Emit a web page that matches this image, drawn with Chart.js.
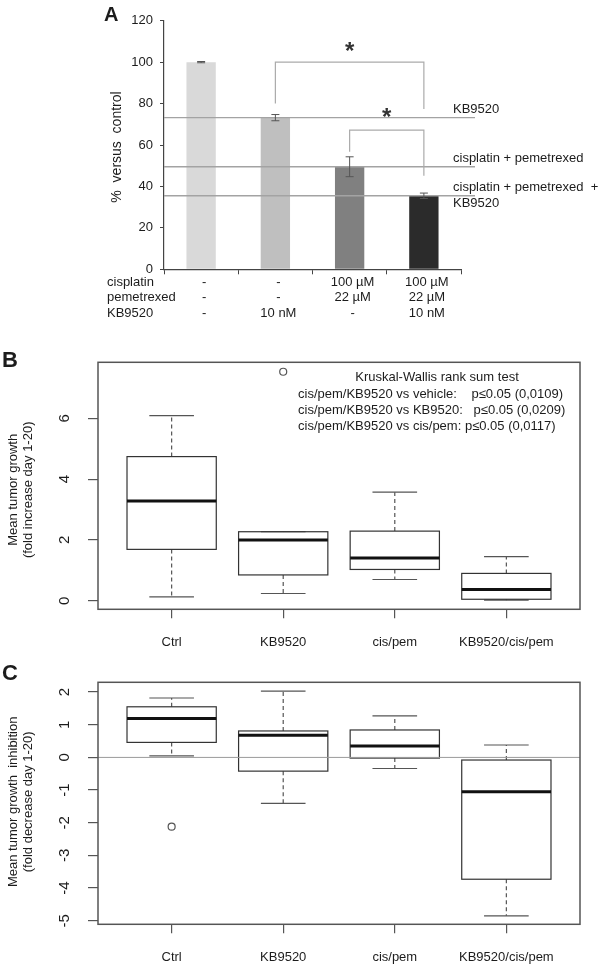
<!DOCTYPE html>
<html>
<head>
<meta charset="utf-8">
<title>KB9520 combination</title>
<script src="https://cdn.jsdelivr.net/npm/chart.js@4.4.1/dist/chart.umd.min.js"></script>
<style>
  body { margin: 0; background: #fff; }
  #page { position: relative; width: 600px; height: 967px; overflow: hidden; }
  #page canvas { position: absolute; left: 0; }
</style>
</head>
<body>
<div id="page">
  <canvas id="chartA" width="600" height="330" style="top:0"></canvas>
  <canvas id="chartB" width="600" height="320" style="top:330px"></canvas>
  <canvas id="chartC" width="600" height="317" style="top:650px"></canvas>
</div>
<script>
// Panel A - viability vs control
const viability = [100, 73.2, 49.5, 35.5];
const viabilityErr = [0.3, 1.5, 4.8, 1.3];
const viabilityTicks = [0, 20, 40, 60, 80, 100, 120];
const cisplatinDose = ['-', '-', '100 µM', '100 µM'];
const pemetrexedDose = ['-', '-', '22 µM', '22 µM'];
const kb9520Dose = ['-', '10 nM', '-', '10 nM'];
const doseRows = ['cisplatin', 'pemetrexed', 'KB9520'];
const refBars = [1, 2, 3];
const refLabels = [['KB9520'], ['cisplatin + pemetrexed'], ['cisplatin + pemetrexed  +', 'KB9520']];
// significance brackets
const sigFrom = [1, 2];
const sigTo = [3, 3];
const sigTop = [100, 67.2];
const sigFromEnd = [80, 56.8];
const sigToEnd = [77.4, 45.2];
const sigStar = [108.3, 76.5];

// Panel B - tumor growth
const groups = ['Ctrl', 'KB9520', 'cis/pem', 'KB9520/cis/pem'];
const growthMin = [0.13, 0.24, 0.70, 0.02];
const growthQ1 = [1.69, 0.85, 1.03, 0.05];
const growthMedian = [3.28, 2.0, 1.41, 0.37];
const growthQ3 = [4.74, 2.27, 2.29, 0.90];
const growthMax = [6.09, 2.27, 3.57, 1.45];
const growthOutGroup = [2];
const growthOutValue = [7.53];
const growthTicks = [0, 2, 4, 6];
const kruskalTitle = 'Kruskal-Wallis rank sum test';
const kruskalLines = [
  'cis/pem/KB9520 vs vehicle:    p≤0.05 (0,0109)',
  'cis/pem/KB9520 vs KB9520:   p≤0.05 (0,0209)',
  'cis/pem/KB9520 vs cis/pem: p≤0.05 (0,0117)'
];

// Panel C - tumor growth inhibition
const inhibMin = [0.05, -1.41, -0.34, -4.85];
const inhibQ1 = [0.46, -0.42, -0.02, -3.73];
const inhibMedian = [1.19, 0.68, 0.35, -1.05];
const inhibQ3 = [1.55, 0.81, 0.84, -0.08];
const inhibMax = [1.82, 2.03, 1.27, 0.38];
const inhibOutGroup = [1];
const inhibOutValue = [-2.12];
const inhibTicks = [-5, -4, -3, -2, -1, 0, 1, 2];

const SANS = "'Liberation Sans', Arial, sans-serif";
const INK = '#1c1c1c';

function line(ctx, x1, y1, x2, y2) {
  ctx.beginPath();
  ctx.moveTo(x1, y1);
  ctx.lineTo(x2, y2);
  ctx.stroke();
}

// ---------- Panel A ----------
const annotateA = {
  id: 'annotateA',
  afterDatasetsDraw(chart) {
    const { ctx, chartArea: a, scales: { x, y } } = chart;
    ctx.save();
    // reference lines + their labels
    ctx.strokeStyle = '#a3a3a3';
    ctx.lineWidth = 1.4;
    ctx.font = '13px ' + SANS;
    ctx.fillStyle = INK;
    ctx.textAlign = 'left';
    ctx.textBaseline = 'middle';
    refBars.forEach((b, k) => {
      const py = y.getPixelForValue(viability[b]);
      line(ctx, a.left, py, a.right + 14, py);
      refLabels[k].forEach((t, j) => ctx.fillText(t, a.right - 8, py - 8.5 + j * 16));
    });
    // error bars
    ctx.strokeStyle = '#555';
    ctx.lineWidth = 1;
    viability.forEach((v, i) => {
      const px = x.getPixelForValue(i);
      const hi = y.getPixelForValue(v + viabilityErr[i]);
      const lo = y.getPixelForValue(v - viabilityErr[i]);
      line(ctx, px, hi, px, lo);
      line(ctx, px - 4, hi, px + 4, hi);
      line(ctx, px - 4, lo, px + 4, lo);
    });
    // brackets and stars
    ctx.strokeStyle = '#ababab';
    ctx.lineWidth = 1.2;
    ctx.font = 'bold 24px ' + SANS;
    ctx.textAlign = 'center';
    ctx.textBaseline = 'alphabetic';
    sigFrom.forEach((f, k) => {
      const x0 = x.getPixelForValue(f), x1 = x.getPixelForValue(sigTo[k]);
      ctx.beginPath();
      ctx.moveTo(x0, y.getPixelForValue(sigFromEnd[k]));
      ctx.lineTo(x0, y.getPixelForValue(sigTop[k]));
      ctx.lineTo(x1, y.getPixelForValue(sigTop[k]));
      ctx.lineTo(x1, y.getPixelForValue(sigToEnd[k]));
      ctx.stroke();
      ctx.fillStyle = '#333';
      ctx.fillText('*', (x0 + x1) / 2, y.getPixelForValue(sigStar[k]) + 14);
    });
    ctx.restore();
  },
  afterDraw(chart) {
    const { ctx, chartArea: a } = chart;
    ctx.save();
    ctx.fillStyle = INK;
    ctx.font = '13px ' + SANS;
    ctx.textAlign = 'left';
    ctx.textBaseline = 'middle';
    doseRows.forEach((r, j) => ctx.fillText(r, a.left - 57, a.bottom + 5 + 7.8 + j * 15.6));
    // y title
    ctx.save();
    ctx.translate(a.left - 47, (a.top + a.bottom) / 2 + 2);
    ctx.rotate(-Math.PI / 2);
    ctx.textAlign = 'center';
    ctx.font = '14px ' + SANS;
    ctx.fillText('%  versus  control', 0, 0);
    ctx.restore();
    ctx.font = 'bold 20px ' + SANS;
    ctx.textBaseline = 'alphabetic';
    ctx.fillText('A', 104, 21);
    ctx.restore();
  }
};

new Chart(document.getElementById('chartA'), {
  type: 'bar',
  data: {
    labels: cisplatinDose.map((c, i) => [c, pemetrexedDose[i], kb9520Dose[i]]),
    datasets: [{
      data: viability,
      backgroundColor: ['#d9d9d9', '#bfbfbf', '#808080', '#2b2b2b'],
      borderWidth: 0,
      barPercentage: 0.395,
      categoryPercentage: 1
    }]
  },
  options: {
    responsive: false,
    animation: false,
    events: [],
    layout: { autoPadding: false, padding: { left: 0, right: 139, top: 20.7, bottom: 0 } },
    plugins: { legend: { display: false }, tooltip: { enabled: false } },
    scales: {
      x: {
        grid: { drawOnChartArea: false, tickLength: 5, color: '#444' },
        border: { color: '#444', width: 1.2 },
        ticks: { font: { family: SANS, size: 13, lineHeight: 1.2 }, color: INK, padding: 0, maxRotation: 0, autoSkip: false, labelOffset: 3 },
        afterFit: s => { s.height = 60.7; }
      },
      y: {
        min: 0,
        max: 120,
        afterBuildTicks: s => { s.ticks = viabilityTicks.map(v => ({ value: v })); },
        grid: { drawOnChartArea: false, tickLength: 4, color: '#444' },
        border: { color: '#444', width: 1.2 },
        ticks: { font: { family: SANS, size: 13 }, color: INK, padding: 7 },
        afterFit: s => { s.width = 164; }
      }
    }
  },
  plugins: [annotateA]
});

// ---------- Panels B and C (boxplots) ----------
function boxPanel(canvasId, cfg) {
  const boxes = {
    id: 'box_' + canvasId,
    beforeDatasetsDraw(chart) {
      const { ctx, chartArea: a, scales: { x, y } } = chart;
      ctx.save();
      cfg.median.forEach((m, i) => {
        const g = i + 1;
        const cx = x.getPixelForValue(g);
        const b0 = x.getPixelForValue(g - 0.4), b1 = x.getPixelForValue(g + 0.4);
        const c0 = x.getPixelForValue(g - 0.2), c1 = x.getPixelForValue(g + 0.2);
        const yLo = y.getPixelForValue(cfg.min[i]);
        const yQ1 = y.getPixelForValue(cfg.q1[i]);
        const yMed = y.getPixelForValue(m);
        const yQ3 = y.getPixelForValue(cfg.q3[i]);
        const yHi = y.getPixelForValue(cfg.max[i]);
        ctx.strokeStyle = '#555';
        ctx.lineWidth = 1.2;
        ctx.setLineDash([4, 3]);
        line(ctx, cx, yQ3, cx, yHi);
        line(ctx, cx, yQ1, cx, yLo);
        ctx.setLineDash([]);
        line(ctx, c0, yHi, c1, yHi);
        line(ctx, c0, yLo, c1, yLo);
        ctx.strokeStyle = '#333';
        ctx.strokeRect(b0, yQ3, b1 - b0, yQ1 - yQ3);
        ctx.strokeStyle = '#111';
        ctx.lineWidth = 3;
        line(ctx, b0, yMed, b1, yMed);
      });
      if (cfg.zeroLine) {
        ctx.strokeStyle = '#9a9a9a';
        ctx.lineWidth = 1;
        const p0 = y.getPixelForValue(0);
        line(ctx, a.left, p0, a.right, p0);
      }
      ctx.restore();
    },
    afterDraw(chart) {
      const { ctx, chartArea: a, scales: { y } } = chart;
      ctx.save();
      ctx.strokeStyle = '#555';
      ctx.lineWidth = 1.5;
      ctx.strokeRect(a.left, a.top, a.right - a.left, a.bottom - a.top);
      ctx.fillStyle = INK;
      ctx.textAlign = 'center';
      ctx.textBaseline = 'middle';
      // rotated y tick labels, as R draws them
      ctx.font = '15px ' + SANS;
      y.ticks.forEach(t => {
        ctx.save();
        ctx.translate(a.left - 33, y.getPixelForValue(t.value));
        ctx.rotate(-Math.PI / 2);
        ctx.fillText(String(t.value), 0, 0);
        ctx.restore();
      });
      ctx.font = '13px ' + SANS;
      const mid = (a.top + a.bottom) / 2 + cfg.titleShift;
      cfg.title.forEach((t, j) => {
        ctx.save();
        ctx.translate(a.left - 84.4 + j * 15, mid);
        ctx.rotate(-Math.PI / 2);
        ctx.fillText(t, 0, 0);
        ctx.restore();
      });
      if (cfg.notes) {
        ctx.fillText(cfg.notes.title, a.left + 339, a.top + 15.4);
        ctx.textAlign = 'left';
        cfg.notes.lines.forEach((t, j) => ctx.fillText(t, a.left + 200, a.top + 31.7 + j * 16));
      }
      ctx.textAlign = 'left';
      ctx.textBaseline = 'alphabetic';
      ctx.font = 'bold 22px ' + SANS;
      ctx.fillText(cfg.letter, 2, cfg.letterY);
      ctx.restore();
    }
  };

  new Chart(document.getElementById(canvasId), {
    type: 'scatter',
    data: {
      datasets: [{
        data: cfg.outGroup.map((g, k) => ({ x: g, y: cfg.outValue[k] })),
        pointRadius: 3.5,
        borderColor: '#555',
        borderWidth: 1.2,
        backgroundColor: 'rgba(255,255,255,0)'
      }]
    },
    options: {
      responsive: false,
      animation: false,
      events: [],
      layout: { autoPadding: false, padding: { left: 0, right: 20, top: cfg.top, bottom: 0 } },
      plugins: { legend: { display: false }, tooltip: { enabled: false } },
      scales: {
        x: {
          type: 'linear',
          min: 0.34,
          max: 4.66,
          afterBuildTicks: s => { s.ticks = groups.map((_, i) => ({ value: i + 1 })); },
          ticks: { callback: v => groups[v - 1], font: { family: SANS, size: 13 }, color: INK, padding: 16, maxRotation: 0, autoSkip: false },
          grid: { drawOnChartArea: false, tickLength: 9, color: '#555', lineWidth: 1.2 },
          border: { display: false },
          afterFit: s => { s.height = cfg.xHeight; }
        },
        y: {
          min: cfg.yMin,
          max: cfg.yMax,
          afterBuildTicks: s => { s.ticks = cfg.ticks.map(v => ({ value: v })); },
          ticks: { display: false },
          grid: { drawOnChartArea: false, tickLength: 10, color: '#555', lineWidth: 1.2 },
          border: { display: false },
          afterFit: s => { s.width = 98; }
        }
      }
    },
    plugins: [boxes]
  });
}

boxPanel('chartB', {
  min: growthMin, q1: growthQ1, median: growthMedian, q3: growthQ3, max: growthMax,
  outGroup: growthOutGroup, outValue: growthOutValue,
  ticks: growthTicks, yMin: -0.28, yMax: 7.84,
  top: 32.3, xHeight: 40.7, titleShift: 4,
  title: ['Mean tumor growth', '(fold increase day 1-20)'],
  notes: { title: kruskalTitle, lines: kruskalLines },
  letter: 'B', letterY: 36.7, zeroLine: false
});

boxPanel('chartC', {
  min: inhibMin, q1: inhibQ1, median: inhibMedian, q3: inhibQ3, max: inhibMax,
  outGroup: inhibOutGroup, outValue: inhibOutValue,
  ticks: inhibTicks, yMin: -5.11, yMax: 2.30,
  top: 32.3, xHeight: 42.7, titleShift: -1.5,
  title: ['Mean tumor growth  inhibition', '(fold decrease day 1-20)'],
  notes: null,
  letter: 'C', letterY: 30, zeroLine: true
});
</script>
</body>
</html>
